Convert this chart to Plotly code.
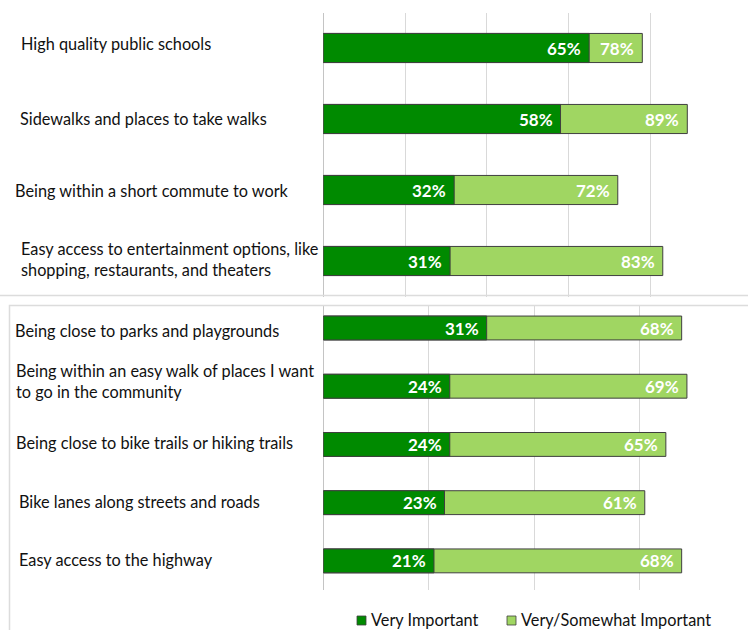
import plotly.graph_objects as go

W, H = 748, 630

# ---- data -------------------------------------------------------------
top_items = [
    "High quality public schools",
    "Sidewalks and places to take walks",
    "Being within a short commute to work",
    "Easy access to entertainment options, like<br>shopping, restaurants, and theaters",
]
top_very = [65, 58, 32, 31]
top_very_somewhat = [78, 89, 72, 83]

bottom_items = [
    "Being close to parks and playgrounds",
    "Being within an easy walk of places I want<br>to go in the community",
    "Being close to bike trails or hiking trails",
    "Bike lanes along streets and roads",
    "Easy access to the highway",
]
bottom_very = [31, 24, 24, 23, 21]
bottom_very_somewhat = [68, 69, 65, 61, 68]

series_names = ["Very Important", "Very/Somewhat Important"]

# ---- styling ----------------------------------------------------------
FONT = "Lato"
DARK = "#008A00"
LIGHT = "#A0D662"
OUTLINE = "#3F3F3F"
GRID = "#D9D9D9"
TEXT = "#111111"
LABEL_SIZE = 16.3

# left edge (px) and vertical nudge (px) of each category label
top_label_pos = [(19, 5), (18, 1), (13, 0), (19, 2)]
bottom_label_pos = [(13, -2), (14, 5), (14, 2), (17, 1), (17, 1)]


def px(x):
    return x / W


def py(y):
    return 1 - y / H


fig = go.Figure()


def add_panel(items, very, vs, xa, ya):
    # lighter bar runs to the combined share, the darker one overlays it
    fig.add_trace(go.Bar(
        y=items, x=vs, orientation="h", width=0.41,
        marker=dict(color=LIGHT, line=dict(color=OUTLINE, width=1)),
        xaxis=xa, yaxis=ya, showlegend=False, hoverinfo="skip",
    ))
    fig.add_trace(go.Bar(
        y=items, x=very, orientation="h", width=0.41,
        marker=dict(color=DARK, line=dict(color=OUTLINE, width=1)),
        xaxis=xa, yaxis=ya, showlegend=False, hoverinfo="skip",
    ))
    for name, v, t in zip(items, very, vs):
        for val in (v, t):
            fig.add_annotation(
                x=val, y=name, xref=xa, yref=ya, text=f"<b>{val}%</b>",
                showarrow=False, xanchor="right", yanchor="middle", xshift=-6,
                font=dict(family=FONT, size=17, color="white"),
            )


add_panel(top_items, top_very, top_very_somewhat, "x", "y")
add_panel(bottom_items, bottom_very, bottom_very_somewhat, "x2", "y2")

for name, (lx, dy) in zip(top_items, top_label_pos):
    fig.add_annotation(
        x=px(lx), y=name, xref="paper", yref="y", text=name, showarrow=False,
        xanchor="left", yanchor="middle", align="left", yshift=dy,
        font=dict(family=FONT, size=LABEL_SIZE, color=TEXT),
    )
for name, (lx, dy) in zip(bottom_items, bottom_label_pos):
    fig.add_annotation(
        x=px(lx), y=name, xref="paper", yref="y2", text=name, showarrow=False,
        xanchor="left", yanchor="middle", align="left", yshift=dy,
        font=dict(family=FONT, size=LABEL_SIZE, color=TEXT),
    )

axis_common = dict(
    showgrid=True, gridcolor=GRID, gridwidth=1, zeroline=True,
    zerolinecolor="#C4C4C4", zerolinewidth=1, showticklabels=False,
    ticks="", showline=False, fixedrange=True,
)

fig.update_layout(
    width=W, height=H, barmode="overlay",
    margin=dict(l=0, r=0, t=0, b=0),
    paper_bgcolor="white", plot_bgcolor="white",
    font=dict(family=FONT, size=16, color=TEXT),
    xaxis=dict(domain=[px(323.3), px(732.3)], range=[0, 100], dtick=20,
               anchor="y", **axis_common),
    yaxis=dict(domain=[py(296.5), py(12.5)], range=[3.5, -0.5],
               showticklabels=False, showgrid=False, zeroline=False,
               anchor="x", fixedrange=True),
    xaxis2=dict(domain=[px(323.3), px(744.9)], range=[0, 80], dtick=20,
                anchor="y2", **axis_common),
    yaxis2=dict(domain=[py(590), py(305)], range=[4.5, -0.395],
                showticklabels=False, showgrid=False, zeroline=False,
                anchor="x2", fixedrange=True),
    showlegend=False,
)

# panel separators
fig.add_shape(type="line", xref="paper", yref="paper", x0=0, x1=1,
              y0=py(295.5), y1=py(295.5), line=dict(color="#DCDCDC", width=1.5))
fig.add_shape(type="rect", xref="paper", yref="paper", x0=px(9.5), x1=px(760),
              y0=py(640), y1=py(305.5), line=dict(color="#DCDCDC", width=1.5))

# legend drawn as swatches with captions
legend_items = [(series_names[0], DARK, 357), (series_names[1], LIGHT, 507)]
for name, col, x0 in legend_items:
    fig.add_shape(type="rect", xref="paper", yref="paper",
                  x0=px(x0), x1=px(x0 + 9), y0=py(625), y1=py(616),
                  fillcolor=col, line=dict(color=OUTLINE, width=0.8))
    fig.add_annotation(x=px(x0 + 12), y=py(619.5), xref="paper", yref="paper",
                       text=name, showarrow=False, xanchor="left",
                       yanchor="middle",
                       font=dict(family=FONT, size=16.3, color=TEXT))

fig.write_html("out.html")
